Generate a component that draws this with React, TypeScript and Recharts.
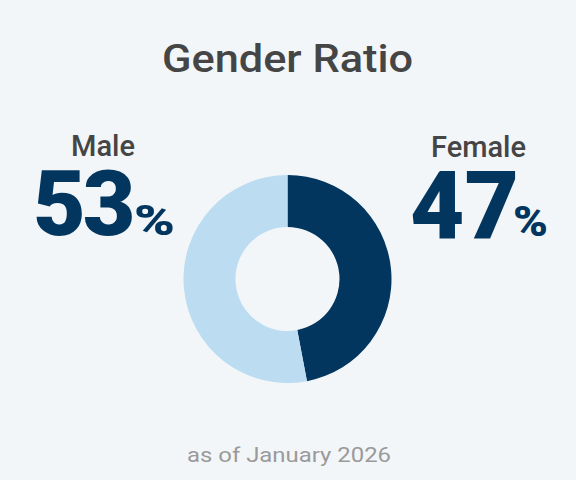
import { PieChart, Pie, Cell } from "recharts";

const genders = ["Female", "Male"];
const shares = [47, 53];
const colors = ["#02365e", "#bcdcf1"];

const title = "Gender Ratio";
const footnote = "as of January 2026";

const data = genders.map((name, i) => ({ name, value: shares[i] }));

const font = 'Roboto, "Noto Sans", sans-serif';

export default function App() {
  const male = data.find((d) => d.name === "Male")!;
  const female = data.find((d) => d.name === "Female")!;

  return (
    <div
      style={{
        position: "fixed",
        left: 0,
        top: 0,
        width: 576,
        height: 480,
        background: "#f3f6f9",
        fontFamily: font,
      }}
    >
      <PieChart width={576} height={480} margin={{ top: 0, right: 0, bottom: 0, left: 0 }}>
        <Pie
          data={data}
          dataKey="value"
          nameKey="name"
          cx={287.5}
          cy={279}
          innerRadius={52}
          outerRadius={104}
          startAngle={90}
          endAngle={-270}
          stroke="none"
          isAnimationActive={false}
        >
          {data.map((d, i) => (
            <Cell key={d.name} fill={colors[i]} />
          ))}
        </Pie>
      </PieChart>
      <svg
        width={576}
        height={480}
        style={{ position: "absolute", left: 0, top: 0 }}
        fontFamily={font}
      >
        <text
          x={162}
          y={72}
          fontSize={39}
          fontWeight={500}
          textLength={251}
          lengthAdjust="spacingAndGlyphs"
          fill="#454545"
        >
          {title}
        </text>

        <text x={71} y={156} fontSize={29} fontWeight={500} textLength={64} lengthAdjust="spacingAndGlyphs" fill="#454545">
          {male.name}
        </text>
        <text x={33} y={235} fill="#02365e" fontWeight={900} fontSize={91} letterSpacing={-3}>
          {male.value}
        </text>
        <text
          x={134}
          y={235}
          fill="#02365e"
          fontWeight={900}
          fontSize={42}
          textLength={41}
          lengthAdjust="spacingAndGlyphs"
        >
          %
        </text>

        <text x={431} y={157} fontSize={29} fontWeight={500} textLength={95} lengthAdjust="spacingAndGlyphs" fill="#454545">
          {female.name}
        </text>
        <text x={410} y={238} fill="#02365e" fontWeight={900} fontSize={94}>
          {female.value}
        </text>
        <text
          x={513}
          y={236}
          fill="#02365e"
          fontWeight={900}
          fontSize={42}
          textLength={35}
          lengthAdjust="spacingAndGlyphs"
        >
          %
        </text>

        <text
          x={187}
          y={462}
          fontSize={21}
          textLength={204}
          lengthAdjust="spacingAndGlyphs"
          fill="#9a9a9a"
        >
          {footnote}
        </text>
      </svg>
    </div>
  );
}
